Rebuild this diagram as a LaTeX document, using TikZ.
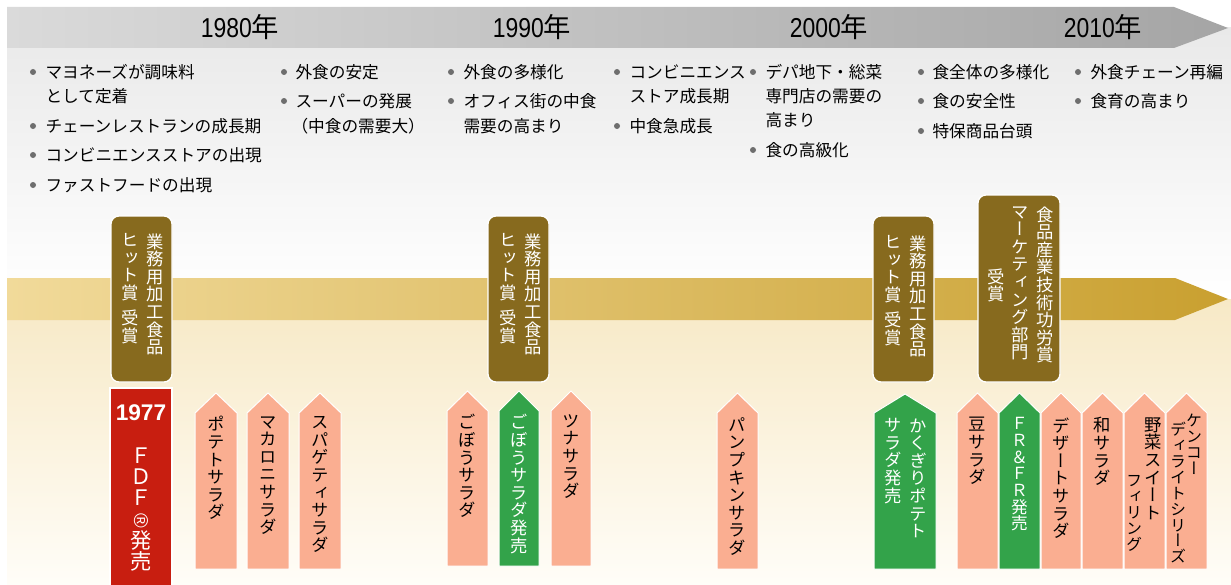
\documentclass[tikz,border=0pt]{standalone}
\usepackage{fontspec}
\usepackage{graphicx}
\setmainfont{Noto Sans CJK JP}
\newfontfamily\jpfont{Noto Sans CJK JP}
\newfontfamily\vjpfont[RawFeature=+vert]{Noto Sans CJK JP}
\newfontfamily\numfont{Liberation Sans}
\newfontfamily\narrowfont[FakeStretch=0.84]{Liberation Sans}

\definecolor{bandgrayL}{RGB}{218,218,218}
\definecolor{bandgrayR}{RGB}{165,165,165}
\definecolor{bggray}{RGB}{233,233,233}
\definecolor{bgcream}{RGB}{247,233,198}
\definecolor{bgcreamB}{RGB}{255,253,248}
\definecolor{bandgoldL}{RGB}{241,218,154}
\definecolor{bandgoldR}{RGB}{201,160,48}
\definecolor{awardbrown}{RGB}{135,106,30}
\definecolor{fdfred}{RGB}{200,30,16}
\definecolor{saladpink}{RGB}{250,174,145}
\definecolor{saladgreen}{RGB}{51,163,74}
\definecolor{dotgray}{RGB}{110,110,110}

% vertical (tate) text: one glyph per line
\makeatletter
\newlength{\vadv}
\newcommand{\tsp}{}
\def\tate@sp{\tsp}
\newcommand{\tate}[1]{\vtop{\baselineskip=\vadv\lineskiplimit=-\maxdimen\lineskip=0pt\relax
  \@tfor\tate@c:=#1\do{\ifx\tate@c\tate@sp\vskip.45em\else\hbox to1em{\hss\tate@c\hss}\fi}}}
\makeatother

\tikzset{every picture/.style={line width=0.75pt}}
\tikzset{
  yearlbl/.style={font=\narrowfont\fontsize{20.5}{20.5}\selectfont, inner sep=0pt},
  itemtxt/.style={font=\jpfont\fontsize{12.5}{12.5}\selectfont, anchor=west, inner sep=0pt},
  bulletdot/.style={fill=dotgray, draw=none},
  awardbox/.style={fill=awardbrown, draw=white, line width=1pt, rounded corners=6pt},
  saladbox/.style={fill=saladpink, draw=white, line width=0.75pt},
  launchbox/.style={fill=saladgreen, draw=white, line width=0.75pt},
  tatetxt/.style={font=\vjpfont\fontsize{13}{13}\selectfont\setlength{\vadv}{13.2pt}, anchor=north, inner sep=0pt},
  tatesmall/.style={tatetxt, font=\vjpfont\fontsize{12}{12}\selectfont\setlength{\vadv}{11.9pt}},
  awardtxt/.style={tatetxt, text=white},
  launchtxt/.style={tatetxt, text=white},
}

\begin{document}
\begin{tikzpicture}[x=0.75pt,y=0.75pt,yscale=-1,xscale=1]
%set diagram left start at 0, and has height of 585
\useasboundingbox (0,0) rectangle (1231,585);

% backgrounds
\path  [top color=bggray, bottom color=white] (7,28) rectangle (1231,299) ;
\path  [top color=bgcream, bottom color=bgcreamB] (7,299) rectangle (1231,585) ;

% year band
\path  [left color=bandgrayL, right color=bandgrayR] (7,7) -- (1174,7) -- (1228,28) -- (1174,48) -- (7,48) -- cycle ;
% time line band
\path  [left color=bandgoldL, right color=bandgoldR] (7,278) -- (1175,278) -- (1228,299) -- (1175,320) -- (7,320) -- cycle ;

\draw (240,27) node (yr1980) [yearlbl] {1980{\jpfont 年}};
\draw (532,27) node (yr1990) [yearlbl] {1990{\jpfont 年}};
\draw (829,27) node (yr2000) [yearlbl] {2000{\jpfont 年}};
\draw (1103,27) node (yr2010) [yearlbl] {2010{\jpfont 年}};

% trends
\fill [bulletdot] (33,72) circle [radius=3] ;
\fill [bulletdot] (33,126) circle [radius=3] ;
\fill [bulletdot] (33,155) circle [radius=3] ;
\fill [bulletdot] (33,185) circle [radius=3] ;
\draw (45,72) node (ta1) [itemtxt] {マヨネーズが調味料};
\draw (45,96) node (ta2) [itemtxt] {として定着};
\draw (45,126) node (ta3) [itemtxt] {チェーンレストランの成長期};
\draw (45,155) node (ta4) [itemtxt] {コンビニエンスストアの出現};
\draw (45,185) node (ta5) [itemtxt] {ファストフードの出現};

\fill [bulletdot] (284,72) circle [radius=3] ;
\fill [bulletdot] (284,101) circle [radius=3] ;
\draw (295,72) node (tb1) [itemtxt] {外食の安定};
\draw (295,101) node (tb2) [itemtxt] {スーパーの発展};
\draw (291,126) node (tb3) [itemtxt] {（中食の需要大）};

\fill [bulletdot] (451,72) circle [radius=3] ;
\fill [bulletdot] (451,101) circle [radius=3] ;
\draw (463,72) node (tc1) [itemtxt] {外食の多様化};
\draw (463,101) node (tc2) [itemtxt] {オフィス街の中食};
\draw (463,126) node (tc3) [itemtxt] {需要の高まり};

\fill [bulletdot] (617,72) circle [radius=3] ;
\fill [bulletdot] (617,126) circle [radius=3] ;
\draw (629,72) node (td1) [itemtxt] {コンビニエンス};
\draw (629,96) node (td2) [itemtxt] {ストア成長期};
\draw (629,126) node (td3) [itemtxt] {中食急成長};

\fill [bulletdot] (753,72) circle [radius=3] ;
\fill [bulletdot] (753,150) circle [radius=3] ;
\draw (765,72) node (te1) [itemtxt] {デパ地下・総菜};
\draw (765,96) node (te2) [itemtxt] {専門店の需要の};
\draw (765,120) node (te3) [itemtxt] {高まり};
\draw (765,150) node (te4) [itemtxt] {食の高級化};

\fill [bulletdot] (921,72) circle [radius=3] ;
\fill [bulletdot] (921,101) circle [radius=3] ;
\fill [bulletdot] (921,131) circle [radius=3] ;
\draw (932,72) node (tf1) [itemtxt] {食全体の多様化};
\draw (932,101) node (tf2) [itemtxt] {食の安全性};
\draw (932,131) node (tf3) [itemtxt] {特保商品台頭};

\fill [bulletdot] (1078,72) circle [radius=3] ;
\fill [bulletdot] (1078,101) circle [radius=3] ;
\draw (1090,72) node (tg1) [itemtxt] {外食チェーン再編};
\draw (1090,101) node (tg2) [itemtxt] {食育の高まり};

% awards
\draw [awardbox] (111,216) rectangle (172,382) ;
\draw (155,233) node (aw1a) [awardtxt] {\tate{業務用加工食品}};
\draw (130,233) node (aw1b) [awardtxt] {\tate{ヒット賞{\tsp}受賞}};

\draw [awardbox] (488,216) rectangle (549,382) ;
\draw (533,233) node (aw2a) [awardtxt] {\tate{業務用加工食品}};
\draw (508,233) node (aw2b) [awardtxt] {\tate{ヒット賞{\tsp}受賞}};

\draw [awardbox] (873,216) rectangle (934,382) ;
\draw (918,235) node (aw3a) [awardtxt] {\tate{業務用加工食品}};
\draw (893,235) node (aw3b) [awardtxt] {\tate{ヒット賞{\tsp}受賞}};

\draw [awardbox] (978,195) rectangle (1060,382) ;
\draw (1045,206) node (aw4a) [awardtxt] {\tate{食品産業技術功労賞}};
\draw (1020,206) node (aw4b) [awardtxt] {\tate{マーケティング部門}};
\draw (996,268) node (aw4c) [awardtxt] {\tate{受賞}};

% FDF
\draw [fill=fdfred, draw=white, line width=1pt] (110,388) rectangle (172,590) ;
\draw (141,413) node (fdfyr) [font=\numfont\bfseries\fontsize{17}{17}\selectfont, text=white, inner sep=0pt] {1977};
\draw (141,447) node (fdf) [tatetxt, text=white, font=\vjpfont\fontsize{16}{16}\selectfont\setlength{\vadv}{16pt}] {\tate{ＦＤＦ{\phantom{発}}発売}};
\draw (141,521) node (fdfmark) [rotate=-90, text=white, font=\numfont\fontsize{15}{15}\selectfont, inner sep=0pt] {®};

% salads
\draw [saladbox] (195,569) -- (195,413) -- (216,393) -- (237,413) -- (237,569) -- cycle ;
\draw (216,416) node (sd1) [tatetxt] {\tate{ポテトサラダ}};
\draw [saladbox] (247,569) -- (247,413) -- (268,393) -- (289,413) -- (289,569) -- cycle ;
\draw (268,416) node (sd2) [tatetxt] {\tate{マカロニサラダ}};
\draw [saladbox] (299,569) -- (299,413) -- (320,393) -- (341,413) -- (341,569) -- cycle ;
\draw (320,416) node (sd3) [tatetxt] {\tate{スパゲティサラダ}};

\draw [saladbox] (447,566) -- (447,411) -- (467.5,391) -- (488,411) -- (488,566) -- cycle ;
\draw (467.5,414) node (sd4) [tatetxt] {\tate{ごぼうサラダ}};
\draw [launchbox] (499,566) -- (499,411) -- (519,391) -- (539,411) -- (539,566) -- cycle ;
\draw (519,414) node (sd5) [launchtxt] {\tate{ごぼうサラダ発売}};
\draw [saladbox] (551,566) -- (551,411) -- (571,391) -- (591,411) -- (591,566) -- cycle ;
\draw (571,414) node (sd6) [tatetxt] {\tate{ツナサラダ}};

\draw [saladbox] (717,569) -- (717,413) -- (737.5,393) -- (758,413) -- (758,569) -- cycle ;
\draw (737.5,417) node (sd7) [tatetxt] {\tate{パンプキンサラダ}};

\draw [launchbox] (874,569) -- (874,413) -- (905,394) -- (936,413) -- (936,569) -- cycle ;
\draw (918,418) node (sd8a) [launchtxt] {\tate{かくぎりポテト}};
\draw (893,418) node (sd8b) [launchtxt] {\tate{サラダ発売}};

\draw [saladbox] (957,569) -- (957,413) -- (977.5,393) -- (998,413) -- (998,569) -- cycle ;
\draw (977.5,417) node (sd9) [tatetxt] {\tate{豆サラダ}};
\draw [launchbox] (999,569) -- (999,413) -- (1019.5,393) -- (1040,413) -- (1040,569) -- cycle ;
\draw (1019.5,417) node (sd10) [launchtxt, font=\vjpfont\fontsize{12.5}{12.5}\selectfont\setlength{\vadv}{12.5pt}] {\tate{ＦＲ＆ＦＲ発売}};
\draw [saladbox] (1041,569) -- (1041,413) -- (1061,393) -- (1081,413) -- (1081,569) -- cycle ;
\draw (1061,417) node (sd11) [tatetxt] {\tate{デザートサラダ}};
\draw [saladbox] (1082,569) -- (1082,413) -- (1102.5,393) -- (1123,413) -- (1123,569) -- cycle ;
\draw (1102.5,417) node (sd12) [tatetxt] {\tate{和サラダ}};
\draw [saladbox] (1124,569) -- (1124,413) -- (1144.5,393) -- (1165,413) -- (1165,569) -- cycle ;
\draw (1153,417) node (sd13a) [tatetxt] {\tate{野菜スイート}};
\draw (1134,475) node (sd13b) [tatesmall] {\tate{フィリング}};
\draw [saladbox] (1166,569) -- (1166,413) -- (1186.5,393) -- (1207,413) -- (1207,569) -- cycle ;
\draw (1194,414) node (sd14a) [tatesmall] {\tate{ケンコー}};
\draw (1178,422) node (sd14b) [tatesmall] {\tate{ディライトシリーズ}};

\end{tikzpicture}
\end{document}
